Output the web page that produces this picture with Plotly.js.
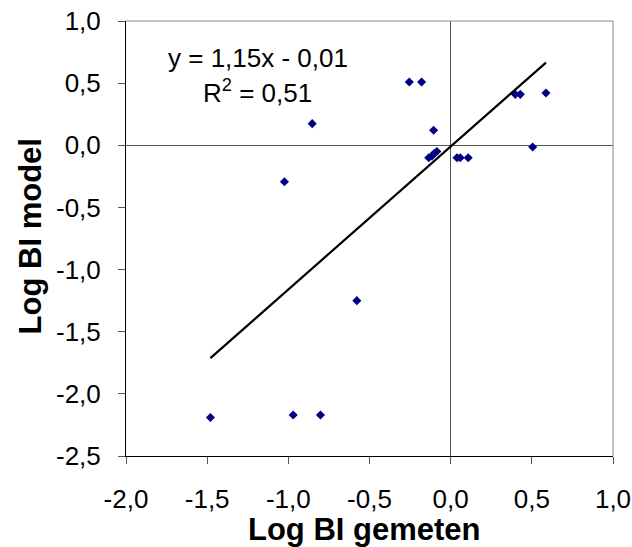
<!DOCTYPE html>
<html>
<head>
<meta charset="utf-8">
<script src="https://cdn.plot.ly/plotly-3.0.1.min.js"></script>
<style>html,body{margin:0;padding:0;background:#fff;}#chart{width:632px;height:547px;}</style>
</head>
<body>
<div id="chart"></div>
<script>
const logBIgemeten = [-0.255, -0.179, -0.853, -0.105, -1.024, -0.135, -0.115, -0.100, -0.085, 0.039, 0.059, 0.108, 0.505, 0.398, 0.429, 0.587, -0.578, -1.480, -0.970, -0.802];
const logBImodel   = [ 0.509,  0.509,  0.174,  0.121, -0.293, -0.100, -0.085, -0.065, -0.050, -0.100, -0.100, -0.100, -0.014, 0.410, 0.410, 0.421, -1.250, -2.190, -2.170, -2.170];
const slope = 1.15;
const intercept = -0.01;
const eqText = "y = 1,15x - 0,01";
const r2Text = "R<sup>2</sup> = 0,51";
const xTicks = [-2.0, -1.5, -1.0, -0.5, 0.0, 0.5, 1.0];
const xTickText = ["-2,0", "-1,5", "-1,0", "-0,5", "0,0", "0,5", "1,0"];
const yTicks = [1.0, 0.5, 0.0, -0.5, -1.0, -1.5, -2.0, -2.5];
const yTickText = ["1,0", "0,5", "0,0", "-0,5", "-1,0", "-1,5", "-2,0", "-2,5"];

const xMin = Math.min(...logBIgemeten), xMax = Math.max(...logBIgemeten);
const trendX = [xMin, xMax];
const trendY = trendX.map(v => slope * v + intercept);

const font = "Liberation Sans, Arial, sans-serif";
const data = [
  {x: logBIgemeten, y: logBImodel, type: 'scatter', mode: 'markers',
   marker: {symbol: 'diamond', size: 7, color: '#000080'}, hoverinfo: 'none'},
  {x: trendX, y: trendY, type: 'scatter', mode: 'lines',
   line: {color: '#000000', width: 2.2}, hoverinfo: 'none'}
];
const layout = {
  width: 632, height: 547,
  margin: {l: 126, r: 19, t: 21, b: 91},
  paper_bgcolor: '#ffffff', plot_bgcolor: '#ffffff',
  showlegend: false,
  font: {family: font, size: 26, color: '#000'},
  xaxis: {range: [-2, 1], tickvals: xTicks, ticktext: xTickText,
          showgrid: false, zeroline: true, zerolinecolor: '#555', zerolinewidth: 1,
          showline: true, linecolor: '#000', linewidth: 1,
          ticks: 'outside', ticklen: 7, tickcolor: '#555', ticklabelstandoff: 13,
          tickfont: {family: font, size: 26, color: '#000'}},
  yaxis: {range: [-2.5, 1], tickvals: yTicks, ticktext: yTickText,
          showgrid: false, zeroline: true, zerolinecolor: '#555', zerolinewidth: 1,
          showline: true, linecolor: '#000', linewidth: 1,
          ticks: 'outside', ticklen: 7, tickcolor: '#555', ticklabelstandoff: 12,
          tickfont: {family: font, size: 26, color: '#000'}},
  shapes: [
    {type: 'line', xref: 'paper', yref: 'paper', x0: 0, x1: 1, y0: 1, y1: 1, line: {color: '#888', width: 1}},
    {type: 'line', xref: 'paper', yref: 'paper', x0: 1, x1: 1, y0: 0, y1: 1, line: {color: '#888', width: 1}}
  ],
  annotations: [
    {text: eqText, xref: 'paper', yref: 'paper', x: 0.271, y: 0.915, showarrow: false,
     font: {family: font, size: 26, color: '#000'}, xanchor: 'center', yanchor: 'middle'},
    {text: r2Text, xref: 'paper', yref: 'paper', x: 0.271, y: 0.838, showarrow: false,
     font: {family: font, size: 26, color: '#000'}, xanchor: 'center', yanchor: 'middle'},
    {text: '<b>Log BI gemeten</b>', xref: 'paper', yref: 'paper', x: 0.49, y: -0.169, showarrow: false,
     font: {family: font, size: 31, color: '#000'}, xanchor: 'center', yanchor: 'middle'},
    {text: '<b>Log BI model</b>', xref: 'paper', yref: 'paper', x: -0.197, y: 0.505, showarrow: false, textangle: -90,
     font: {family: font, size: 31, color: '#000'}, xanchor: 'center', yanchor: 'middle'}
  ]
};
Plotly.newPlot('chart', data, layout, {staticPlot: true, displayModeBar: false});
</script>
</body>
</html>
